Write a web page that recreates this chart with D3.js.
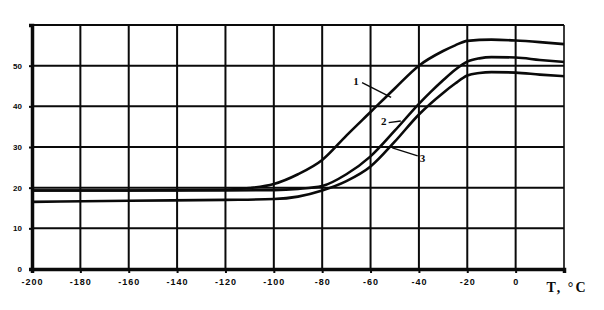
<!DOCTYPE html>
<html>
<head>
<meta charset="utf-8">
<script src="https://cdnjs.cloudflare.com/ajax/libs/d3/7.8.5/d3.min.js"></script>
<style>
  html, body { margin: 0; padding: 0; background: #fff; }
  svg { display: block; }
</style>
</head>
<body>
<svg id="chart" width="604" height="310"></svg>
<script>
// ---- data ----
const temps1 = [-200, -160, -140, -120, -110, -100, -90, -80, -70, -60, -50, -40, -30, -25, -20, -10, 0, 10, 20];
const curve1 = [19.3, 19.3, 19.4, 19.5, 19.9, 20.9, 23.3, 26.8, 32.8, 38.6, 44.4, 50.0, 53.6, 55.0, 56.1, 56.4, 56.2, 55.8, 55.3];

const temps2 = [-200, -160, -120, -100, -90, -80, -70, -60, -50, -40, -35, -30, -25, -20, -15, -10, 0, 10, 20];
const curve2 = [19.3, 19.3, 19.3, 19.4, 19.7, 20.4, 23.3, 27.7, 34.0, 40.6, 43.6, 46.4, 49.0, 51.0, 51.8, 52.1, 52.0, 51.4, 50.9];

const temps3 = [-200, -160, -120, -100, -90, -80, -70, -60, -50, -40, -30, -25, -20, -15, -10, 0, 10, 20];
const curve3 = [16.5, 16.8, 17.0, 17.2, 17.8, 19.3, 21.6, 25.2, 31.3, 38.0, 43.3, 45.6, 47.6, 48.2, 48.4, 48.3, 47.8, 47.4];

const xTicks = [-200, -180, -160, -140, -120, -100, -80, -60, -40, -20, 0, 20];
const yTicks = [0, 10, 20, 30, 40, 50, 60];
const yTickLabels = ["0", "10", "20", "30", "40", "50", ""];
const xAxisTitle = "T, °C";
const curveLabels = ["1", "2", "3"];

// ---- layout ----
const svg = d3.select("#chart");
const mLeft = 32, mRight = 564, mTop = 25, mBottom = 269;

const x = d3.scaleLinear().domain([-200, 20]).range([mLeft, mRight]);
const y = d3.scaleLinear().domain([0, 60]).range([mBottom, mTop]);

const ink = "#0a0a0a";

// grid
const g = svg.append("g");
g.selectAll("line.v").data(xTicks.slice(1, -1)).enter().append("line")
  .attr("x1", d => x(d)).attr("x2", d => x(d))
  .attr("y1", mTop).attr("y2", mBottom)
  .attr("stroke", ink).attr("stroke-width", 2);
g.selectAll("line.h").data(yTicks.slice(1, -1)).enter().append("line")
  .attr("x1", mLeft).attr("x2", mRight)
  .attr("y1", d => y(d)).attr("y2", d => y(d))
  .attr("stroke", ink).attr("stroke-width", 2);

// frame
g.append("line").attr("x1", mLeft).attr("x2", mRight).attr("y1", mTop).attr("y2", mTop)
  .attr("stroke", ink).attr("stroke-width", 2);
g.append("line").attr("x1", mRight).attr("x2", mRight).attr("y1", mTop).attr("y2", mBottom)
  .attr("stroke", ink).attr("stroke-width", 1.6);

// axes
const xAxis = d3.axisBottom(x).tickValues(xTicks).tickSize(4)
  .tickFormat(d => d === 20 ? "" : String(d));
const xg = svg.append("g").attr("transform", `translate(0,${mBottom})`).call(xAxis);
xg.select(".domain").attr("stroke", ink).attr("stroke-width", 3.5);
xg.selectAll(".tick line").attr("stroke", ink).attr("stroke-width", 2);
xg.selectAll(".tick text")
  .attr("font-family", "'Liberation Sans', Arial, sans-serif")
  .attr("font-weight", "bold").attr("font-size", 9).attr("fill", ink)
  .attr("dy", "0.95em").attr("letter-spacing", "1px");

const yAxis = d3.axisLeft(y).tickValues(yTicks).tickSize(3)
  .tickFormat((d, i) => yTickLabels[i]);
const yg = svg.append("g").attr("transform", `translate(${mLeft},0)`).call(yAxis);
yg.select(".domain").attr("stroke", ink).attr("stroke-width", 3.5);
yg.selectAll(".tick line").attr("stroke", ink).attr("stroke-width", 2);
yg.selectAll(".tick text")
  .attr("font-family", "'Liberation Sans', Arial, sans-serif")
  .attr("font-weight", "bold").attr("font-size", 8).attr("fill", ink)
  .attr("x", -10);

// x axis title in place of the last tick label
svg.append("text")
  .attr("x", x(20) + 3).attr("y", mBottom + 23)
  .attr("text-anchor", "middle")
  .attr("font-family", "'Liberation Serif', serif").attr("font-weight", "bold")
  .attr("font-size", 14).attr("fill", ink).attr("letter-spacing", "2px")
  .text(xAxisTitle);

// curves
const line = d3.line().x(d => x(d[0])).y(d => y(d[1])).curve(d3.curveMonotoneX);
const series = [
  d3.zip(temps1, curve1),
  d3.zip(temps2, curve2),
  d3.zip(temps3, curve3)
];
svg.append("g").selectAll("path").data(series).enter().append("path")
  .attr("d", line).attr("fill", "none")
  .attr("stroke", ink).attr("stroke-width", 2.6).attr("stroke-linejoin", "round");

// curve labels with leaders (anchored to data coordinates)
const labelSpecs = [
  { text: curveLabels[0], at: [-66, 46.2], from: [-63.5, 45.8], to: [-51.5, 42.2] },
  { text: curveLabels[1], at: [-54.5, 36.3], from: [-52.5, 36.0], to: [-47.5, 36.4] },
  { text: curveLabels[2], at: [-38.5, 27.2], from: [-40.5, 27.8], to: [-51, 29.8] }
];
const lg = svg.append("g");
labelSpecs.forEach(s => {
  lg.append("line")
    .attr("x1", x(s.from[0])).attr("y1", y(s.from[1]))
    .attr("x2", x(s.to[0])).attr("y2", y(s.to[1]))
    .attr("stroke", ink).attr("stroke-width", 1.4);
  lg.append("text")
    .attr("x", x(s.at[0])).attr("y", y(s.at[1]))
    .attr("text-anchor", "middle").attr("dy", "0.35em")
    .attr("font-family", "'Liberation Serif', serif").attr("font-weight", "bold")
    .attr("font-size", 11).attr("fill", ink)
    .text(s.text);
});
</script>
</body>
</html>
